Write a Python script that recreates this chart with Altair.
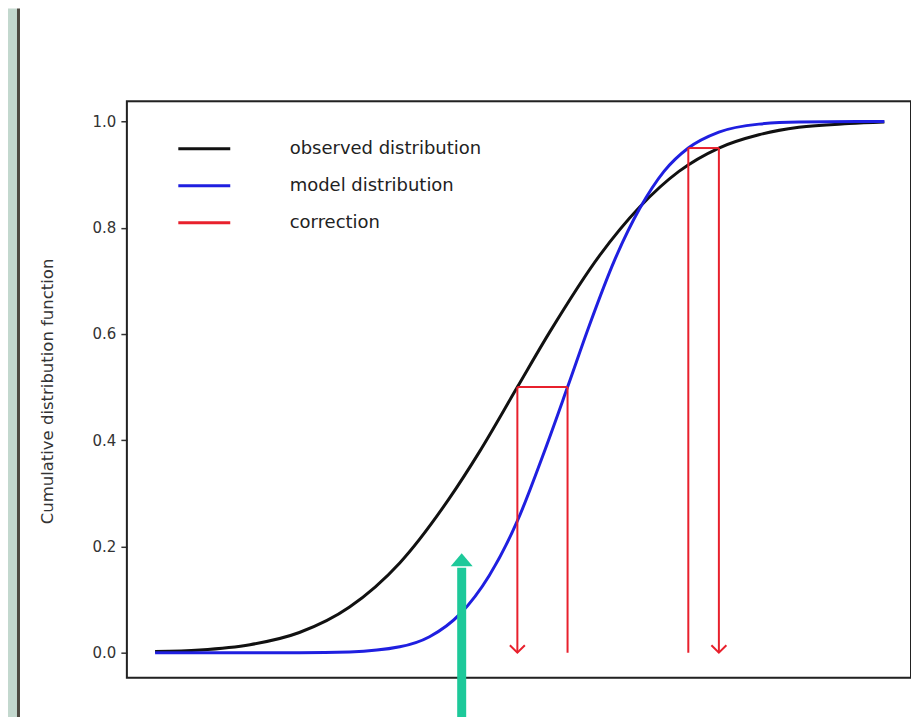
import altair as alt
import pandas as pd

# ---- data (x in arbitrary units 0..100) ----
obs_x = [3.6, 9.3, 15.7, 22.0, 28.4, 34.8, 41.1, 45.0, 49.8, 53.9, 60.3, 65.4, 70.4, 75.5, 80.6, 85.7, 92.1, 96.6]
obs_y = [0.002, 0.005, 0.015, 0.038, 0.086, 0.169, 0.290, 0.379, 0.500, 0.603, 0.748, 0.839, 0.906, 0.950, 0.975, 0.989, 0.996, 0.999]

mod_x = [3.6, 22.0, 28.4, 34.8, 38.6, 42.5, 46.2, 49.8, 53.2, 56.2, 59.0, 62.2, 65.4, 68.5, 71.6, 75.5, 80.6, 85.7, 96.6]
mod_y = [0.000, 0.0001, 0.0015, 0.011, 0.030, 0.073, 0.145, 0.248, 0.377, 0.500, 0.617, 0.739, 0.836, 0.906, 0.950, 0.980, 0.995, 0.999, 1.000]

# correction segments (start -> end)
seg_x = [49.8, 56.2, 71.6, 75.5, 49.8, 71.6]
seg_x2 = [49.8, 56.2, 71.6, 75.5, 56.2, 75.5]
seg_y = [0.50, 0.50, 0.95, 0.95, 0.50, 0.95]
seg_y2 = [0.00, 0.00, 0.00, 0.00, 0.50, 0.95]

# arrow heads of the correction
arrow_x = [49.8, 75.5]
arrow_y = [0.0, 0.0]

# green annotation arrow
ann_x = [42.7]
ann_y_top = [0.175]
ann_y_shaft = [0.16]
ann_y_bottom = [-0.15]

series_names = ["observed distribution", "model distribution", "correction"]
series_colors = ["#111111", "#1f1fe0", "#e8202c"]
y_ticks = [0.0, 0.2, 0.4, 0.6, 0.8, 1.0]

FONT = "DejaVu Sans"

curves = pd.concat([
    pd.DataFrame({"x": obs_x, "y": obs_y, "series": series_names[0]}),
    pd.DataFrame({"x": mod_x, "y": mod_y, "series": series_names[1]}),
])
segs = pd.DataFrame({"x": seg_x, "x2": seg_x2, "y": seg_y, "y2": seg_y2, "series": series_names[2]})
arrows = pd.DataFrame({"x": arrow_x, "y": arrow_y})
ann = pd.DataFrame({"x": ann_x, "top": ann_y_top, "shaft": ann_y_shaft, "bottom": ann_y_bottom})

xs = alt.Scale(domain=[0, 100], nice=False, zero=False)
ys = alt.Scale(domain=[-0.047, 1.038], nice=False, zero=False)

color = alt.Color(
    "series:N",
    scale=alt.Scale(domain=series_names, range=series_colors),
    legend=alt.Legend(
        title=None, orient="none", legendX=50, legendY=20,
        symbolType="stroke", symbolSize=2704, symbolStrokeWidth=3,
        labelFont=FONT, labelFontSize=18, labelColor="#222222", labelLimit=400,
        labelOffset=58, rowPadding=0,
    ),
)

# decoration: green strip and panel border on the left
strip = alt.Chart(pd.DataFrame({"a": [0]})).mark_rect(color="#c3d8ce").encode(
    x=alt.value(-119), x2=alt.value(-110), y=alt.value(-93), y2=alt.value(700)
)
border = alt.Chart(pd.DataFrame({"a": [0]})).mark_rule(color="#4e4a42", strokeWidth=3).encode(
    x=alt.value(-108.5), y=alt.value(-93), y2=alt.value(700)
)

lines = alt.Chart(curves).mark_line(strokeWidth=3, interpolate="monotone").encode(
    x=alt.X("x:Q", scale=xs, axis=None),
    y=alt.Y(
        "y:Q", scale=ys,
        axis=alt.Axis(
            title="Cumulative distribution function", values=y_ticks, format=".1f",
            grid=False, domain=False, tickSize=6, tickWidth=1.5, tickColor="#333333",
            labelFont=FONT, labelFontSize=15, labelColor="#333333", labelPadding=5,
            titleFont=FONT, titleFontSize=16.5, titleFontWeight="normal", titleColor="#333333",
            titleX=-79, titleY=290, titleAngle=-90, titleAlign="center", titleBaseline="middle",
        ),
    ),
    color=color,
    order=alt.Order("x:Q"),
)

rules = alt.Chart(segs).mark_rule(strokeWidth=2).encode(
    x=alt.X("x:Q", scale=xs), x2="x2:Q",
    y=alt.Y("y:Q", scale=ys), y2="y2:Q",
    color=color,
)

heads = alt.Chart(arrows).mark_point(
    shape="M -1 -1 L 0 0 L 1 -1", filled=False, strokeWidth=2, size=225, color="#e8202c", opacity=1
).encode(x=alt.X("x:Q", scale=xs), y=alt.Y("y:Q", scale=ys))

ann_shaft = alt.Chart(ann).mark_rule(strokeWidth=9, color="#1dc99a").encode(
    x=alt.X("x:Q", scale=xs), y=alt.Y("shaft:Q", scale=ys), y2="bottom:Q"
)
ann_head = alt.Chart(ann).mark_point(
    shape="M -1 0.6 L 0 -0.6 L 1 0.6 Z", filled=True, size=484, color="#1dc99a", opacity=1
).encode(x=alt.X("x:Q", scale=xs), y=alt.Y("top:Q", scale=ys))

frame = alt.Chart(pd.DataFrame({"a": [0]})).mark_rect(fill=None, stroke="#222222", strokeWidth=2).encode(
    x=alt.value(0), x2=alt.value(785), y=alt.value(0), y2=alt.value(577)
)

chart = alt.layer(strip, border, lines, rules, heads, frame, ann_shaft, ann_head).properties(
    width=785, height=577,
    autosize=alt.AutoSizeParams(type="none"),
    padding={"left": 119, "top": 93, "right": 0, "bottom": 39},
).configure_view(stroke=None).configure(background="white")

chart.save("out.html", embed_options={"renderer": "svg", "actions": False})
